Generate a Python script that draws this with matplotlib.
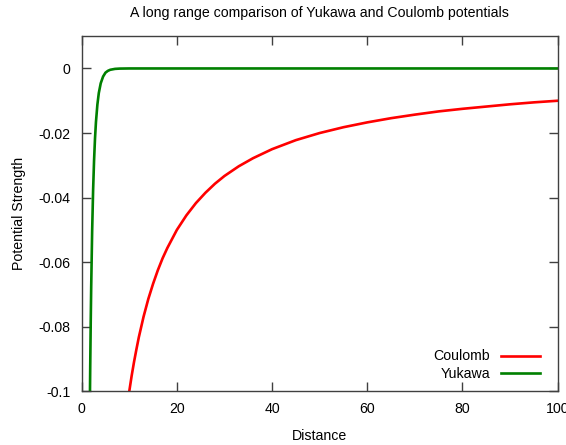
import matplotlib
matplotlib.use('Agg')
import matplotlib.pyplot as plt

plt.rcParams['font.family'] = ['Liberation Sans', 'DejaVu Sans']

# values
coulomb_x = [9.5, 10, 10.5, 11, 11.5, 12, 13, 14, 15, 16, 17, 18, 20, 22, 24, 26, 28, 30,
             33, 36, 40, 45, 50, 55, 60, 65, 70, 75, 80, 85, 90, 95, 100]
coulomb_y = [-0.1053, -0.1, -0.0952, -0.0909, -0.0870, -0.0833, -0.0769, -0.0714, -0.0667,
             -0.0625, -0.0588, -0.0556, -0.0500, -0.0455, -0.0417, -0.0385, -0.0357, -0.0333,
             -0.0303, -0.0278, -0.0250, -0.0222, -0.0200, -0.0182, -0.0167, -0.0154, -0.0143,
             -0.0133, -0.0125, -0.0118, -0.0111, -0.0105, -0.0100]

yukawa_x = [1.7, 1.75, 1.8, 1.9, 2.0, 2.2, 2.4, 2.6, 2.8, 3.0, 3.3, 3.6, 4.0, 4.5, 5, 5.5,
            6, 7, 8, 10, 100]
yukawa_y = [-0.1075, -0.0993, -0.0918, -0.0787, -0.0677, -0.0504, -0.0378, -0.0286, -0.0217,
            -0.0166, -0.0112, -0.0076, -0.0046, -0.0025, -0.0013, -0.00074, -0.00041,
            -0.00013, -0.00004, 0.0, 0.0]

fs = 10.2

fig = plt.figure(figsize=(5.66, 4.45), dpi=100)
ax = fig.add_axes([0.1443, 0.1207, 0.841, 0.798])

ax.plot(coulomb_x, coulomb_y, color='#ff0000', lw=1.9, label='Coulomb')
ax.plot(yukawa_x, yukawa_y, color='#008000', lw=1.9, label='Yukawa')

ax.set_xlim(0, 100)
ax.set_ylim(-0.1, 0.01)
ax.set_xticks([0, 20, 40, 60, 80, 100])
ax.set_yticks([0, -0.02, -0.04, -0.06, -0.08, -0.1])
ax.set_yticklabels(['0', '-0.02', '-0.04', '-0.06', '-0.08', '-0.1'])
ax.tick_params(direction='in', length=6.5, width=1, top=True, right=True,
               color='#404040', labelsize=fs, pad=8)
for s in ax.spines.values():
    s.set_color('#404040')
    s.set_linewidth(1)

ax.set_title('A long range comparison of Yukawa and Coulomb potentials', fontsize=fs, pad=14)
ax.set_xlabel('Distance', fontsize=fs, labelpad=9)
ax.set_ylabel('Potential Strength', fontsize=fs, labelpad=9)

ax.legend(loc='lower right', frameon=False, markerfirst=False, fontsize=fs,
          handlelength=2.75, handletextpad=0.8, labelspacing=0.25,
          bbox_to_anchor=(0.99, -0.007))

plt.savefig('out.png', dpi=100)
